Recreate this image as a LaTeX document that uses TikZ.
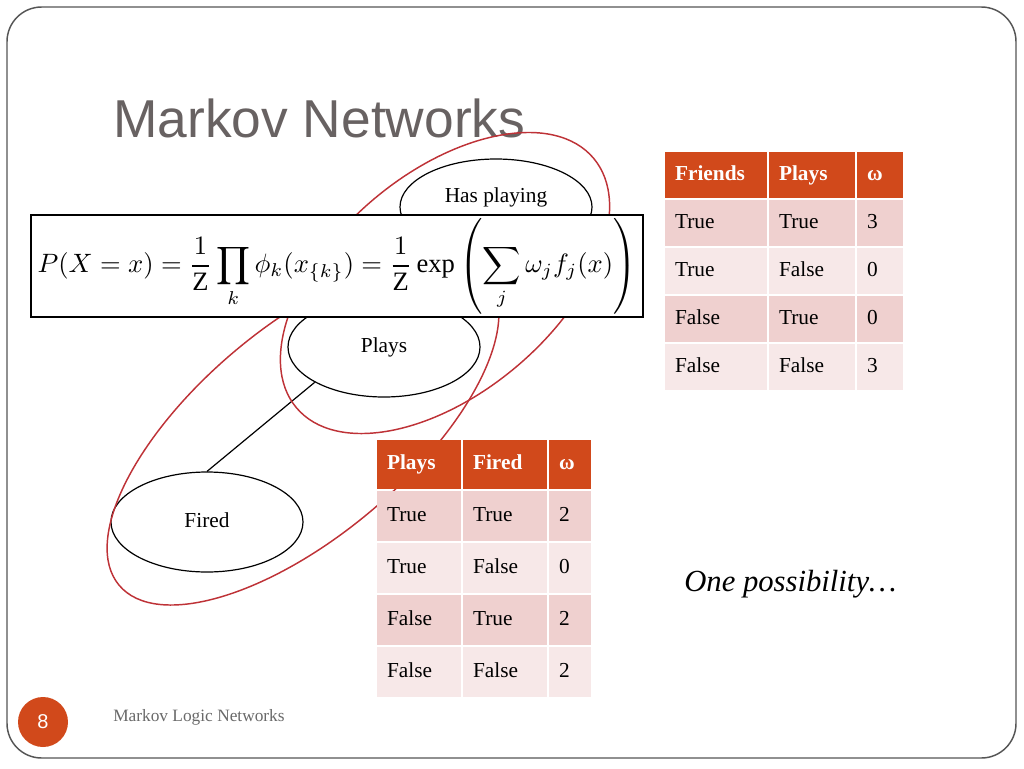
\documentclass[tikz,border=0pt]{standalone}
\usepackage{amsmath,amssymb}
\usepackage{fontspec}
\setmainfont{Liberation Serif}
\setsansfont{Liberation Sans}
\usepackage{graphicx}
\usetikzlibrary{calc,positioning}
\usetikzlibrary{shapes}
\usepackage{xcolor}
\definecolor{hdred}{RGB}{209,73,27}
\definecolor{rowdark}{RGB}{239,208,207}
\definecolor{rowlight}{RGB}{247,232,232}
\definecolor{cliquered}{RGB}{190,50,55}
\definecolor{titlegray}{RGB}{104,98,98}
\definecolor{footgray}{RGB}{105,105,105}
\definecolor{framegray}{RGB}{85,85,85}

\begin{document}
\begin{tikzpicture}[x=0.75pt, y=-0.75pt, node distance=1.5pt,
  state/.style = {draw, ellipse, line width=0.9pt, minimum width=144pt, minimum height=75pt, inner sep=0pt, font=\fontsize{16}{19}\selectfont, text height=11pt, text depth=3.5pt},
  clique/.style = {draw=cliquered, line width=1.1pt},
  hd/.style = {fill=hdred, text=white, font=\fontsize{16}{19}\selectfont\bfseries, inner xsep=7.5pt, inner ysep=0pt, outer sep=0pt, align=left, text height=11pt, text depth=3.5pt},
  oddrow/.style = {hd, fill=rowdark, text=black, font=\fontsize{16}{19}\selectfont},
  evenrow/.style = {oddrow, fill=rowlight},
  t1/.style = {minimum height=34.5pt}, t2h/.style = {minimum height=36.75pt}, t2/.style = {minimum height=37.5pt},
  wa/.style = {text width=61.5pt}, wb/.style = {text width=49.5pt}, wc/.style = {text width=19.5pt},
  va/.style = {text width=48pt}, vc/.style = {text width=16.5pt}]
		\useasboundingbox (0,0) rectangle (1024,768);
		\draw[framegray, line width=1.1pt, rounded corners=26pt] (7,7) rectangle (1016,758);
		\node[anchor=base west, inner sep=0pt, text=titlegray, font=\sffamily\fontsize{40}{48}\selectfont] (title) at (113,137) {Markov Networks};
		% network
		\node[state] (fired) at (207,522) {Fired};
		\node[state] (plays) at (384,347) {Plays};
		\node[state, minimum height=72pt, label={[font=\fontsize{16}{19}\selectfont, inner sep=0pt, text height=11pt, text depth=3.5pt, yshift=7.5pt]center:Has playing}] (hasplay) at (496,207) {};
		\draw[line width=0.9pt] (fired.north) -- (plays.207);
		\draw[clique, rotate around={40:(445,283)}] (445,283) ellipse [x radius=145.5pt, y radius=82.5pt];
		\draw[clique, rotate around={40:(303,431)}] (303,431) ellipse [x radius=180pt, y radius=78.75pt];
		% formula
		\node[draw, fill=white, line width=0.9pt, minimum width=459pt, minimum height=76.5pt, inner sep=0pt] (eq) at (337,266) {\resizebox{449pt}{!}{$\displaystyle P(X=x)=\frac{1}{\mathrm{Z}}\prod_{k}\phi_k(x_{\{k\}})=\frac{1}{\mathrm{Z}}\exp\left(\sum_{j}\omega_j f_j(x)\right)$}};
		% friends / plays
		\node[hd, t1, wa, anchor=north west] (fh1) at (665,152) {Friends};
		\node[hd, t1, wb, right=of fh1] (fh2) {Plays};
		\node[hd, t1, wc, right=of fh2] (fh3) {ω};
		\node[oddrow, t1, wa, below=of fh1] (fa1) {True};
		\node[oddrow, t1, wb, below=of fh2] (fa2) {True};
		\node[oddrow, t1, wc, below=of fh3] (fa3) {3};
		\node[evenrow, t1, wa, below=of fa1] (fb1) {True};
		\node[evenrow, t1, wb, below=of fa2] (fb2) {False};
		\node[evenrow, t1, wc, below=of fa3] (fb3) {0};
		\node[oddrow, t1, wa, below=of fb1] (fc1) {False};
		\node[oddrow, t1, wb, below=of fb2] (fc2) {True};
		\node[oddrow, t1, wc, below=of fb3] (fc3) {0};
		\node[evenrow, t1, wa, below=of fc1] (fd1) {False};
		\node[evenrow, t1, wb, below=of fc2] (fd2) {False};
		\node[evenrow, t1, wc, below=of fc3] (fd3) {3};
		% plays / fired
		\node[hd, t2h, va, anchor=north west] (ph1) at (377,440) {Plays};
		\node[hd, t2h, va, right=of ph1] (ph2) {Fired};
		\node[hd, t2h, vc, right=of ph2] (ph3) {ω};
		\node[oddrow, t2, va, below=of ph1] (pa1) {True};
		\node[oddrow, t2, va, below=of ph2] (pa2) {True};
		\node[oddrow, t2, vc, below=of ph3] (pa3) {2};
		\node[evenrow, t2, va, below=of pa1] (pb1) {True};
		\node[evenrow, t2, va, below=of pa2] (pb2) {False};
		\node[evenrow, t2, vc, below=of pa3] (pb3) {0};
		\node[oddrow, t2, va, below=of pb1] (pc1) {False};
		\node[oddrow, t2, va, below=of pb2] (pc2) {True};
		\node[oddrow, t2, vc, below=of pb3] (pc3) {2};
		\node[evenrow, t2, va, below=of pc1] (pd1) {False};
		\node[evenrow, t2, va, below=of pc2] (pd2) {False};
		\node[evenrow, t2, vc, below=of pc3] (pd3) {2};
		% notes
		\node[anchor=base west, inner sep=0pt, font=\itshape\fontsize{23}{27}\selectfont] (note) at (684,591) {One possibility…};
		\node[circle, fill=hdred, minimum size=37.5pt, inner sep=0pt, text=white, font=\sffamily\fontsize{15}{18}\selectfont] (num) at (43,722) {8};
		\node[anchor=base west, inner sep=0pt, text=footgray, font=\fontsize{13}{15}\selectfont] (foot) at (113,721) {Markov Logic Networks};
\end{tikzpicture}
\end{document}
